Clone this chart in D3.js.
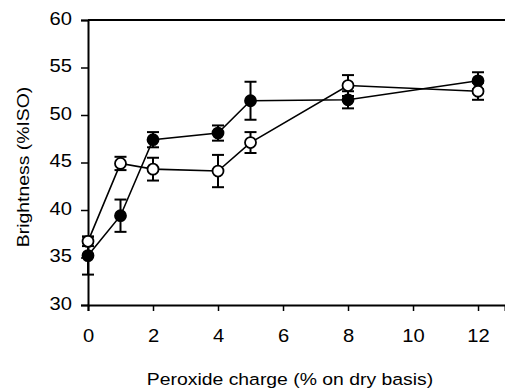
<!DOCTYPE html>
<html>
<head>
<meta charset="utf-8">
<script src="https://cdn.jsdelivr.net/npm/d3@7"></script>
<style>
	body { margin: 0; background: #fff; }
	svg { display: block; font-family: 'Liberation Sans', Arial, sans-serif; }
</style>
</head>
<body>
<script>
// peroxide charge (% on dry basis)
const charges = [0, 1, 2, 4, 5, 8, 12];
// filled circles
const filledMean = [35.2, 39.4, 47.4, 48.1, 51.5, 51.6, 53.6];
const filledErr = [2.0, 1.7, 0.8, 0.8, 2.0, 0.9, 0.9];
// open circles
const openMean = [36.7, 44.9, 44.3, 44.1, 47.1, 53.1, 52.5];
const openErr = [0.5, 0.7, 1.2, 1.7, 1.1, 1.1, 0.9];

const yTicks = [30, 35, 40, 45, 50, 55, 60];
const xTicks = [0, 2, 4, 6, 8, 10, 12];

const width = 505, height = 390;
const stretch = 1.12; // the original type is a little wide
const svg = d3.select('body').append('svg')
	.attr('width', width)
	.attr('height', height);

const x = d3.scaleLinear().domain([0, 12.83]).range([88, 505]);
const y = d3.scaleLinear().domain([30, 60]).range([305, 20]);

// top frame line
svg.append('line')
	.attr('x1', x(0)).attr('x2', x(12.83))
	.attr('y1', y(60)).attr('y2', y(60))
	.attr('stroke', '#000').attr('stroke-width', 2);

const xAxis = svg.append('g')
	.attr('transform', `translate(0,${y(30)})`)
	.call(d3.axisBottom(x).tickValues(xTicks).tickFormat(d3.format('d')).tickSizeOuter(0).tickSize(6).tickPadding(18));

const yAxis = svg.append('g')
	.attr('transform', `translate(${x(0)},0)`)
	.call(d3.axisLeft(y).tickValues(yTicks).tickSizeOuter(0).tickSize(7).tickPadding(9));

for (const ax of [xAxis, yAxis]) {
	ax.select('.domain').attr('stroke-width', 2);
	ax.selectAll('.tick line').attr('stroke-width', 1.5);
	ax.selectAll('.tick text')
		.attr('font-size', 18)
		.attr('font-family', "'Liberation Sans', Arial, sans-serif")
		.attr('fill', '#000')
		.attr('transform', `scale(${stretch},1)`);
}
yAxis.selectAll('.tick text')
	.attr('x', -16 / stretch)
	.attr('dy', '0.24em');

svg.append('text')
	.attr('transform', `translate(29,167) rotate(-90) scale(1.14,1)`)
	.attr('text-anchor', 'middle')
	.attr('font-size', 17)
	.text('Brightness (%ISO)');

svg.append('text')
	.attr('transform', `translate(290,385) scale(1.14,1)`)
	.attr('text-anchor', 'middle')
	.attr('font-size', 17)
	.text('Peroxide charge (% on dry basis)');

function drawSeries(means, errs, fill) {
	const pts = charges.map((c, i) => ({x: c, m: means[i], e: errs[i]}));
	const g = svg.append('g');

	g.append('path')
		.datum(pts)
		.attr('fill', 'none')
		.attr('stroke', '#000')
		.attr('stroke-width', 1.6)
		.attr('d', d3.line().x(d => x(d.x)).y(d => y(d.m)));

	const eb = g.selectAll('.eb').data(pts).enter().append('g');
	eb.append('line')
		.attr('x1', d => x(d.x)).attr('x2', d => x(d.x))
		.attr('y1', d => y(d.m - d.e)).attr('y2', d => y(d.m + d.e))
		.attr('stroke', '#000').attr('stroke-width', 2);
	for (const s of [-1, 1]) {
		eb.append('line')
			.attr('x1', d => x(d.x) - 6).attr('x2', d => x(d.x) + 6)
			.attr('y1', d => y(d.m + s * d.e)).attr('y2', d => y(d.m + s * d.e))
			.attr('stroke', '#000').attr('stroke-width', 2);
	}

	g.selectAll('circle').data(pts).enter().append('circle')
		.attr('cx', d => x(d.x))
		.attr('cy', d => y(d.m))
		.attr('r', 5.5)
		.attr('fill', fill)
		.attr('stroke', '#000')
		.attr('stroke-width', 1.8);
}

drawSeries(filledMean, filledErr, '#000');
drawSeries(openMean, openErr, '#fff');
</script>
</body>
</html>
